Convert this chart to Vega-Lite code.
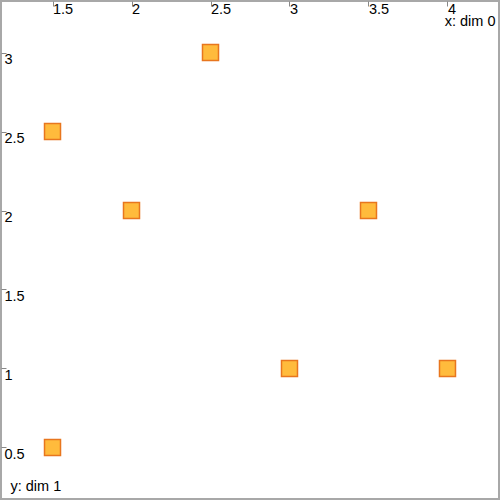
{
  "$schema": "https://vega.github.io/schema/vega-lite/v6.json",
  "width": 498,
  "height": 498,
  "padding": {"left": 1, "top": 1, "right": 1, "bottom": 1},
  "autosize": "none",
  "background": "white",
  "config": {
    "view": {"stroke": "#a8a8a8", "strokeWidth": 2},
    "axis": {
      "domain": false,
      "grid": false,
      "tickColor": "#888888",
      "tickSize": -5,
      "tickWidth": 1,
      "format": "~g",
      "labelFont": "Liberation Sans",
      "labelFontSize": 14.5,
      "labelColor": "#000000",
      "titleFont": "Liberation Sans",
      "titleFontSize": 14.5,
      "titleFontWeight": "normal",
      "titleColor": "#000000"
    }
  },
  "data": {
    "values": [
      {"x": 1.5, "y": 2.5},
      {"x": 1.5, "y": 0.5},
      {"x": 2.0, "y": 2.0},
      {"x": 2.5, "y": 3.0},
      {"x": 3.0, "y": 1.0},
      {"x": 3.5, "y": 2.0},
      {"x": 4.0, "y": 1.0}
    ]
  },
  "mark": {
    "type": "point",
    "shape": "square",
    "filled": true,
    "size": 256,
    "fill": "#ffbb3c",
    "stroke": "#e8761e",
    "strokeWidth": 1.5,
    "opacity": 1
  },
  "encoding": {
    "x": {
      "field": "x",
      "type": "quantitative",
      "scale": {"domain": [1.174, 4.326], "nice": false, "zero": false},
      "axis": {
        "orient": "top",
        "values": [1.5, 2, 2.5, 3, 3.5, 4],
        "labelAlign": "left",
        "labelBaseline": "top",
        "labelPadding": 4,
        "labelDx": 2,
        "labelFlush": false,
        "labelOverlap": false,
        "title": "x: dim 0",
        "titleAlign": "right",
        "titleBaseline": "alphabetic",
        "titleAnchor": null,
        "titleX": 494,
        "titleY": 24
      }
    },
    "y": {
      "field": "y",
      "type": "quantitative",
      "scale": {"domain": [0.174, 3.326], "nice": false, "zero": false},
      "axis": {
        "orient": "left",
        "values": [0.5, 1, 1.5, 2, 2.5, 3],
        "labelAlign": "left",
        "labelBaseline": "top",
        "labelPadding": 2,
        "labelFlush": false,
        "labelOverlap": false,
        "title": "y: dim 1",
        "titleAngle": 0,
        "titleAlign": "left",
        "titleBaseline": "alphabetic",
        "titleAnchor": null,
        "titleX": 9,
        "titleY": 489
      }
    }
  }
}
